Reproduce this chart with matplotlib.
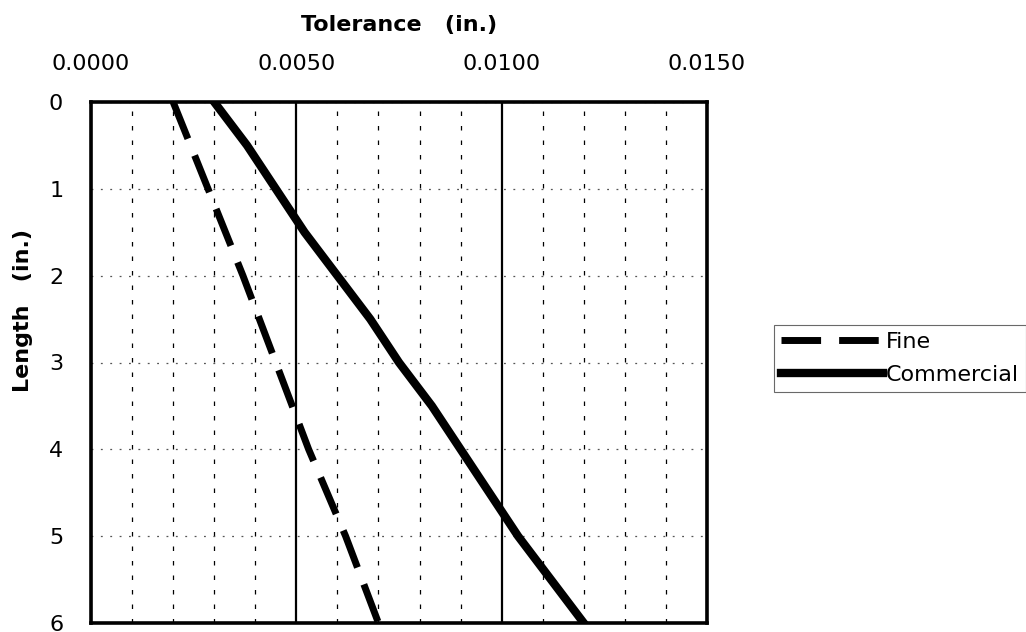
import matplotlib.pyplot as plt
from matplotlib.ticker import MultipleLocator, FormatStrFormatter

plt.rcParams['font.family'] = ['DejaVu Sans']

# length (in.) down the side, tolerance (in.) across the top
fine_length = [0, 1, 2, 3, 4, 5, 6]
fine_tol = [0.0020, 0.00285, 0.0037, 0.0045, 0.0053, 0.0062, 0.0070]

comm_length = [0, 0.5, 1, 1.5, 2, 2.5, 3, 3.5, 4, 4.5, 5, 5.5, 6]
comm_tol = [0.0030, 0.0038, 0.0045, 0.0052, 0.0060, 0.0068, 0.0075,
            0.0083, 0.0090, 0.0097, 0.0104, 0.0112, 0.0120]

x_ticks = [0.0, 0.005, 0.010, 0.015]
y_ticks = [0, 1, 2, 3, 4, 5, 6]


def main():
    fig = plt.figure(figsize=(10.26, 6.32), dpi=100)
    ax = fig.add_axes([91 / 1026, 1 - 623 / 632, 616 / 1026, 521 / 632])

    ax.plot(fine_tol, fine_length, color='black', lw=5,
            linestyle=(0, (5.7, 2.6)), dash_capstyle='butt', label='Fine')
    ax.plot(comm_tol, comm_length, color='black', lw=6,
            solid_joinstyle='round', label='Commercial')

    ax.set_xlim(0, 0.015)
    ax.set_ylim(6, 0)
    ax.xaxis.tick_top()
    ax.set_xticks(x_ticks)
    ax.set_yticks(y_ticks)
    ax.xaxis.set_major_formatter(FormatStrFormatter('%.4f'))
    ax.xaxis.set_minor_locator(MultipleLocator(0.001))
    ax.tick_params(axis='x', which='both', length=0, pad=20, labelsize=16)
    ax.tick_params(axis='y', which='both', length=0, pad=20, labelsize=16)

    ax.set_axisbelow(True)
    ax.grid(which='major', axis='x', color='black', lw=1.6, ls='-')
    ax.grid(which='minor', axis='x', color='black', lw=0.9, ls=(0, (3.6, 8)))
    ax.grid(which='major', axis='y', color='#555555', lw=0.9, ls=(0, (1.5, 6)))

    for s in ax.spines.values():
        s.set_linewidth(2.6)

    ax.set_xlabel('Tolerance   (in.)', fontsize=16, fontweight='bold')
    ax.xaxis.set_label_position('top')
    ax.xaxis.set_label_coords(0.5, (623 - 31) / 521)
    ax.set_ylabel('Length   (in.)', fontsize=16, fontweight='bold')
    ax.yaxis.set_label_coords(-0.094, 0.6)

    leg = ax.legend(loc='upper left', bbox_to_anchor=(774 / 1026, 1 - 325 / 632),
                    bbox_transform=fig.transFigure, handlelength=4.6, fontsize=16,
                    fancybox=False, borderpad=0.3, labelspacing=0.6,
                    handletextpad=0.15, borderaxespad=0)
    leg.get_frame().set_edgecolor('#444444')
    leg.get_frame().set_linewidth(0.8)

    fig.savefig('out.png', dpi=100)


if __name__ == "__main__":
    main()
